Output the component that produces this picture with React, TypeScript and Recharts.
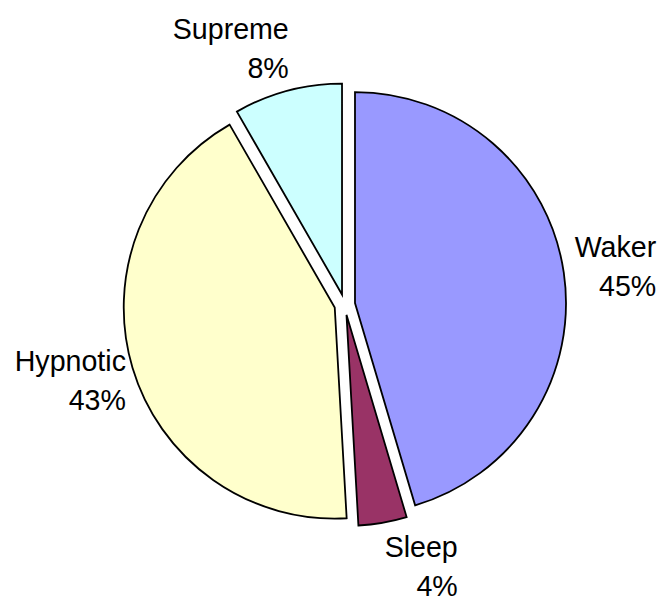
import React from 'react';
import { PieChart, Pie, Cell, Sector } from 'recharts';

const categories = ['Waker', 'Sleep', 'Hypnotic', 'Supreme'];
const values = [45.4, 3.7, 42.6, 8.3];
const colors = ['#9999FF', '#993366', '#FFFFCC', '#CCFFFF'];

const data = categories.map((name, i) => ({ name, value: values[i] }));

const RADIAN = Math.PI / 180;
const EXPLODE = 10.4;
const FONT = 28.6;
const FONT_FAMILY = "'Liberation Sans', Arial, sans-serif";
const LINE = 39;

let ctx: CanvasRenderingContext2D | null = null;
function textWidth(s: string): number {
  if (!ctx) {
    const c = document.createElement('canvas');
    ctx = c.getContext('2d');
  }
  if (!ctx) return s.length * FONT * 0.55;
  ctx.font = `${FONT}px ${FONT_FAMILY}`;
  return ctx.measureText(s).width;
}

const ExplodedSector = (props: any) => {
  const { cx, cy, midAngle } = props;
  const dx = EXPLODE * Math.cos(-midAngle * RADIAN);
  const dy = EXPLODE * Math.sin(-midAngle * RADIAN);
  return <Sector {...props} cx={cx + dx} cy={cy + dy} />;
};

const renderLabel = (props: any) => {
  const { cx, cy, midAngle, outerRadius, percent, name } = props;
  const ux = Math.cos(-midAngle * RADIAN);
  const uy = Math.sin(-midAngle * RADIAN);
  const ex = cx + EXPLODE * ux;
  const ey = cy + EXPLODE * uy;
  const px = ex + (outerRadius + 11) * ux;
  const py = ey + (outerRadius + 11) * uy;
  const l1 = String(name);
  const l2 = `${Math.round(percent * 100)}%`;
  const w = Math.max(textWidth(l1), textWidth(l2));
  const xr = ux >= 0 ? px + w : px + 4;
  const centerY = py + uy * 33;
  const b1 = centerY - 9.5;
  return (
    <text x={xr} y={b1} textAnchor="end" fontSize={FONT} fontFamily={FONT_FAMILY} fill="#000">
      <tspan x={xr} y={b1}>{l1}</tspan>
      <tspan x={xr} y={b1 + LINE}>{l2}</tspan>
    </text>
  );
};

export default function App() {
  return (
    <div>
      <style>{'body{margin:0;background:#fff;}'}</style>
      <PieChart width={665} height={602} margin={{ top: 0, right: 0, bottom: 0, left: 0 }}>
        <Pie
          data={data}
          dataKey="value"
          nameKey="name"
          cx={344.7}
          cy={304.6}
          outerRadius={211}
          startAngle={90}
          endAngle={-270}
          stroke="#000"
          strokeWidth={1.8}
          label={renderLabel}
          labelLine={false}
          isAnimationActive={false}
          shape={ExplodedSector}
          inactiveShape={ExplodedSector}
        >
          {data.map((d, i) => (
            <Cell key={d.name} fill={colors[i]} />
          ))}
        </Pie>
      </PieChart>
    </div>
  );
}
